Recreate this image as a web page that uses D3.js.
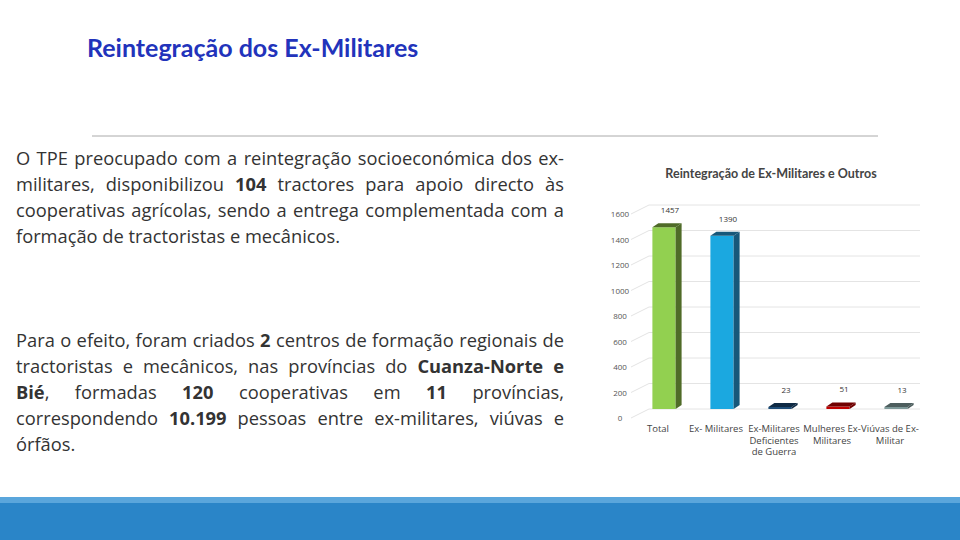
<!DOCTYPE html>
<html><head><meta charset="utf-8">
<script src="https://cdn.jsdelivr.net/npm/d3@7"></script>
<style>
body{margin:0;width:960px;height:540px;overflow:hidden;background:#fff;font-family:"Open Sans",sans-serif}
.txt{position:absolute;left:16px;width:548px;font-size:18.3px;line-height:26px;color:#333;text-align:justify}
</style></head><body>
<svg id="c" width="960" height="540" style="position:absolute;left:0;top:0"></svg>
<div class="txt" style="top:145px">O TPE preocupado com a reintegração socioeconómica dos ex-militares, disponibilizou <b>104</b> tractores para apoio directo às cooperativas agrícolas, sendo a entrega complementada com a formação de tractoristas e mecânicos.</div>
<div class="txt" style="top:327px">Para o efeito, foram criados <b>2</b> centros de formação regionais de tractoristas e mecânicos, nas províncias do <b>Cuanza-Norte e Bié</b>, formadas <b>120</b> cooperativas em <b>11</b> províncias, correspondendo <b>10.199</b> pessoas entre ex-militares, viúvas e órfãos.</div>
<script>
var categories = [["Total"], ["Ex- Militares"], ["Ex-Militares", "Deficientes", "de Guerra"], ["Mulheres Ex-", "Militares"], ["Viúvas de Ex-", "Militar"]];
var values = [1457, 1390, 23, 51, 13];
var colors = ["#92d050", "#1ba8e0", "#1f4e79", "#c00000", "#7f9a9a"];
var sideColors = ["#4f6b28", "#17587a", "#0f2a44", "#700000", "#4d5e5e"];
var ticks = [0, 200, 400, 600, 800, 1000, 1200, 1400, 1600];

var svg = d3.select("#c");
svg.append("text").attr("x", 87).attr("y", 57).attr("fill", "#2233bb")
  .attr("font-size", 25).attr("font-weight", "bold").attr("font-family", "Lato").text("Reintegração dos Ex-Militares");
svg.append("line").attr("x1", 92).attr("x2", 878).attr("y1", 136).attr("y2", 136).attr("stroke", "#aaa");
svg.append("rect").attr("x", 0).attr("y", 497).attr("width", 960).attr("height", 43).attr("fill", "#2a85c8");
svg.append("rect").attr("x", 0).attr("y", 497).attr("width", 960).attr("height", 6).attr("fill", "#5aa6dc");

svg.append("text").attr("x", 771).attr("y", 178).attr("text-anchor", "middle").attr("fill", "#444")
  .attr("font-size", 12.5).attr("font-weight", "bold").attr("font-family", "Lato").text("Reintegração de Ex-Militares e Outros");

var y = d3.scaleLinear().domain([0, 1600]).range([413, 209]);
var x = d3.scaleBand().domain(d3.range(values.length)).range([635, 925]).paddingInner(0.6).paddingOuter(0.3);
var dx = 6, dy = 4;
var g = svg.append("g");
ticks.forEach(function (t) {
  g.append("path").attr("d", "M631," + (y(t) + 5) + "L" + (631 + 18) + "," + (y(t) - 4) + "H920")
    .attr("fill", "none").attr("stroke", "#e4e4e4");
  g.append("text").attr("x", 620).attr("y", y(t) + 8).attr("text-anchor", "middle")
    .attr("font-size", 8).attr("fill", "#555").text(t);
});
values.forEach(function (v, i) {
  var x0 = x(i), w = x.bandwidth(), top = y(v), base = y(0) - 4;
  var h = Math.max(base - top, 2);
  g.append("rect").attr("x", x0).attr("y", base - h).attr("width", w).attr("height", h).attr("fill", colors[i]);
  g.append("path").attr("d", "M" + x0 + "," + (base - h) + "l" + dx + "," + (-dy) + "h" + w + "l" + (-dx) + "," + dy + "z")
    .attr("fill", sideColors[i]);
  g.append("path").attr("d", "M" + (x0 + w) + "," + (base - h) + "l" + dx + "," + (-dy) + "v" + h + "l" + (-dx) + "," + dy + "z")
    .attr("fill", sideColors[i]);
  g.append("text").attr("x", x0 + w / 2 + 6).attr("y", base - h - 14).attr("text-anchor", "middle")
    .attr("font-size", 8).attr("fill", "#333").text(v);
  categories[i].forEach(function (l, j) {
    g.append("text").attr("x", x0 + w / 2 - 6).attr("y", 432 + j * 11.5).attr("text-anchor", "middle")
      .attr("font-size", 9.5).attr("fill", "#444").text(l);
  });
});
</script></body></html>
